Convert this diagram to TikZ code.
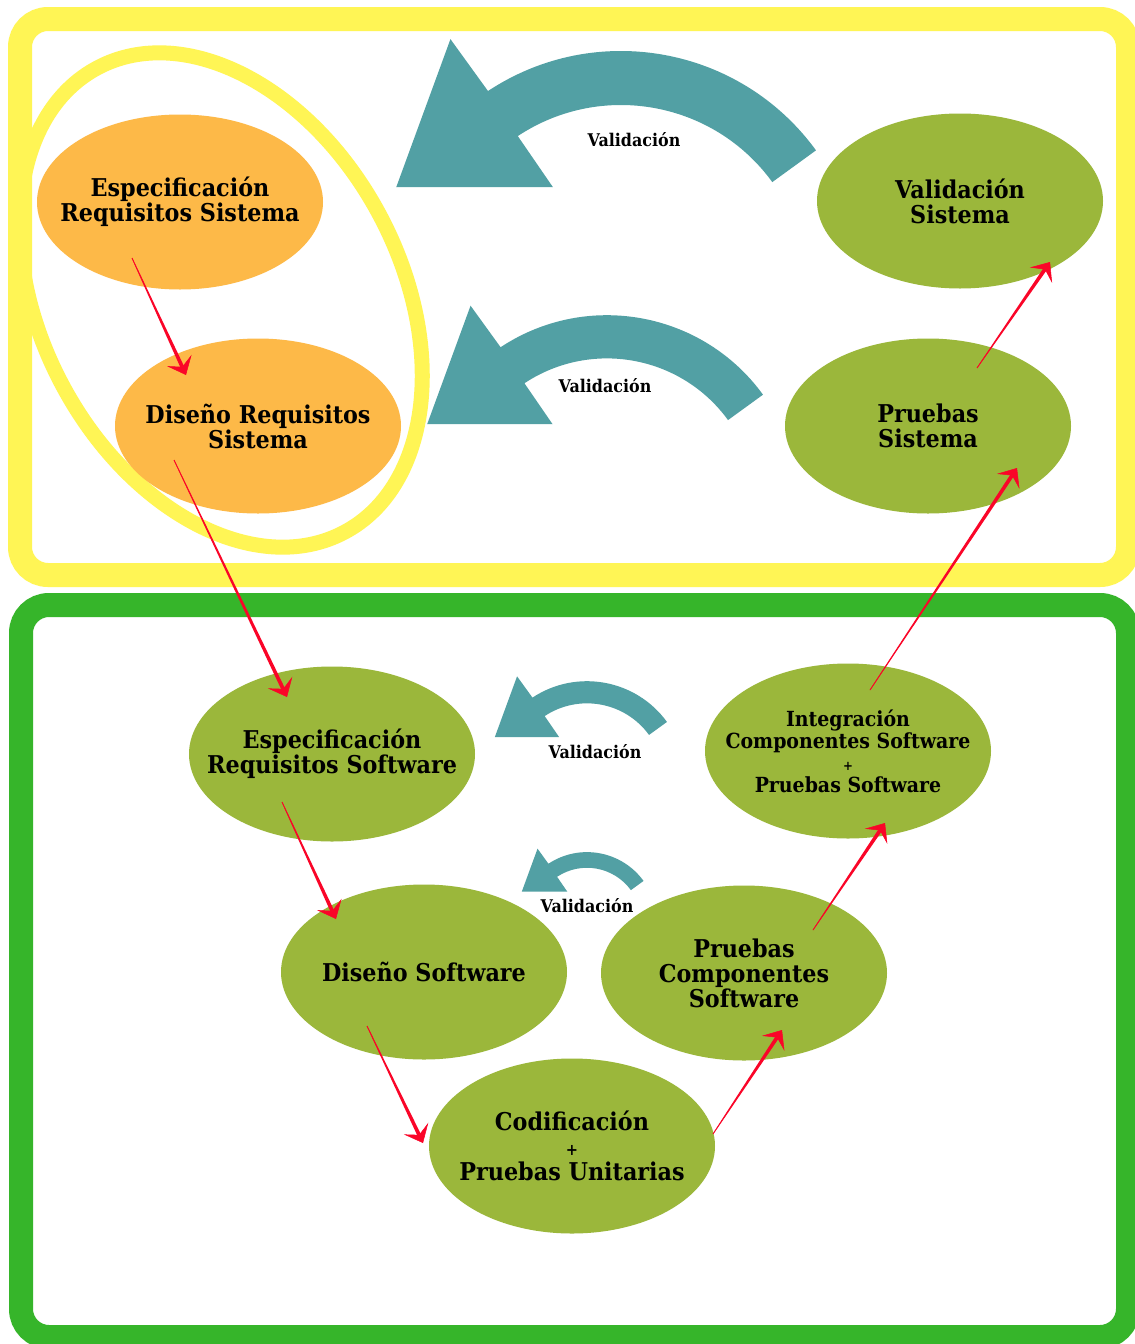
\documentclass[tikz,border=0pt]{standalone}
\usepackage{fontspec}
\setmainfont{DejaVu Serif}[FakeStretch=0.91]
\usetikzlibrary{shapes.geometric,arrows.meta,calc}

\definecolor{frameyellow}{RGB}{255,245,85}
\definecolor{framegreen}{RGB}{54,181,42}
\definecolor{stageorange}{RGB}{253,185,72}
\definecolor{stageolive}{RGB}{155,183,59}
\definecolor{loopteal}{RGB}{82,160,164}
\definecolor{flowred}{RGB}{250,5,40}

% curved "Validación" arrow: centre of the arc and scale factor
\newcommand\validationarrow[3]{%
  \fill[loopteal, shift={(#1,#2)}, scale=#3]
    (36:241pt) arc[start angle=36, end angle=123.5, radius=241pt]
    -- (124:305pt) -- (155:248pt) -- (123:125pt)
    -- (123.5:187pt) arc[start angle=123.5, end angle=36, radius=187pt]
    -- cycle;}

% tapered red flow arrow between two named points
\newcommand\flowlink[2]{%
  \coordinate (flowend) at ($(#2)!9pt!(#1)$);
  \fill[flowred] ($(#1)!0.4pt!90:(#2)$) -- ($(flowend)!1.9pt!-90:(#1)$)
    -- ($(flowend)!1.9pt!90:(#1)$) -- ($(#1)!0.4pt!-90:(#2)$) -- cycle;
  \draw[flowred, line width=0.5pt, -{Stealth[length=16pt,width=27pt,inset=7pt]}] (#1) -- (#2);}

\tikzset{
  frame/.style={line width=24pt, rounded corners=28pt},
  stage/.style={ellipse, minimum width=286pt, minimum height=175pt,
    inner xsep=-80pt, inner ysep=-40pt,
    align=center, text=black, font=\bfseries\fontsize{24.5}{25}\selectfont},
  vlabel/.style={text=black, inner sep=0pt, font=\bfseries\fontsize{17.5}{18}\selectfont},
}

\begin{document}
\begin{tikzpicture}[x=1pt,y=-1pt]
\useasboundingbox (0,0) rectangle (1135,1344);
\fill[white] (0,0) rectangle (1135,1344);

% the two phase frames
\draw[frame, frameyellow] (20,19) rectangle (1128,575);
\draw[frame, framegreen] (21,605) rectangle (1128,1337);

% ring grouping the system requirement stages
\draw[frameyellow, line width=15pt, rotate around={118:(221,300)}]
  (221,300) ellipse [x radius=263pt, y radius=180pt];

% validation loops
\validationarrow{621}{292}{1}
\validationarrow{607}{508}{0.8}
\validationarrow{587}{780}{0.41}
\validationarrow{587}{922}{0.29}

% stages
\node[stage, fill=stageorange] (ess) at (180,202) {Especificación\\Requisitos Sistema};
\node[stage, fill=stageorange] (drs) at (258,426) {Diseño Requisitos\\Sistema};
\node[stage, fill=stageolive] (vs) at (960,201) {Validación\\Sistema};
\node[stage, fill=stageolive] (ps) at (928,426) {Pruebas\\Sistema};
\node[stage, fill=stageolive] (ers) at (332,754) {Especificación\\Requisitos Software};
\node[stage, fill=stageolive, font=\bfseries\fontsize{20.8}{22}\selectfont] (ics) at (848,751)
  {Integración\\Componentes Software\\{\fontsize{13}{13}\selectfont +}\\Pruebas Software};
\node[stage, fill=stageolive] (ds) at (424,972) {Diseño Software};
\node[stage, fill=stageolive] (pcs) at (744,973) {Pruebas\\Componentes\\Software};
\node[stage, fill=stageolive] (cod) at (572,1146)
  {Codificación\\{\fontsize{16}{16}\selectfont +}\\Pruebas Unitarias};

% loop labels
\node[vlabel] (v1) at (634,140) {Validación};
\node[vlabel] (v2) at (605,386) {Validación};
\node[vlabel] (v3) at (595,752) {Validación};
\node[vlabel] (v4) at (587,906) {Validación};

% flow between stages
\coordinate (f1s) at ($(ess.center)+(-48,56)$);
\coordinate (f1e) at ($(drs.center)+(-72,-51)$);
\coordinate (f2s) at ($(drs.center)+(-84,34)$);
\coordinate (f2e) at ($(ers.center)+(-45,-57)$);
\coordinate (f3s) at ($(ers.center)+(-50,48)$);
\coordinate (f3e) at ($(ds.center)+(-88,-53)$);
\coordinate (f4s) at ($(ds.center)+(-57,54)$);
\coordinate (f4e) at ($(cod.center)+(-149,-3)$);
\coordinate (f5s) at ($(cod.center)+(141,-12)$);
\coordinate (f5e) at ($(pcs.center)+(38,57)$);
\coordinate (f6s) at ($(pcs.center)+(69,-43)$);
\coordinate (f6e) at ($(ics.center)+(37,72)$);
\coordinate (f7s) at ($(ics.center)+(22,-61)$);
\coordinate (f7e) at ($(ps.center)+(89,42)$);
\coordinate (f8s) at ($(ps.center)+(49,-58)$);
\coordinate (f8e) at ($(vs.center)+(90,61)$);
\flowlink{f1s}{f1e}
\flowlink{f2s}{f2e}
\flowlink{f3s}{f3e}
\flowlink{f4s}{f4e}
\flowlink{f5s}{f5e}
\flowlink{f6s}{f6e}
\flowlink{f7s}{f7e}
\flowlink{f8s}{f8e}
\end{tikzpicture}
\end{document}
